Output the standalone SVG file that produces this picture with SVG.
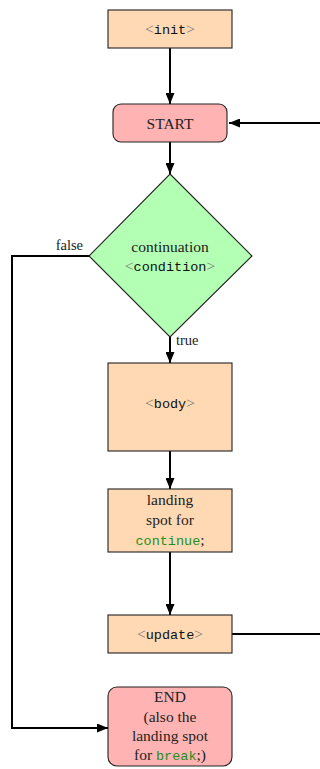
<svg xmlns="http://www.w3.org/2000/svg" width="320" height="769" viewBox="0 0 320 769">
  <style>
    .box { fill: #ffd9b3; stroke: #222; stroke-width: 1.1; }
    .term { fill: #ffb3b3; stroke: #222; stroke-width: 1.1; }
    .dec { fill: #b3ffb3; stroke: #222; stroke-width: 1.1; }
    .edge { fill: none; stroke: #000; stroke-width: 2; }
    .rm { font-family: "Liberation Serif", "DejaVu Serif", serif; font-size: 15.5px; fill: #222; text-anchor: middle; }
    .lbl { font-family: "Liberation Serif", "DejaVu Serif", serif; font-size: 14.5px; fill: #222; }
    .tt { font-family: "Liberation Mono", "DejaVu Sans Mono", monospace; font-size: 13.5px; fill: #111; text-anchor: middle; }
    .ang { font-family: "Liberation Serif", "DejaVu Serif", serif; font-size: 15.5px; fill: #777; }
    .kw { font-family: "Liberation Mono", "DejaVu Sans Mono", monospace; font-size: 13.5px; fill: #1f8f1f; }
  </style>
  <defs>
    <marker id="arrow" viewBox="0 0 11 9" refX="11" refY="4.5" markerWidth="11" markerHeight="9" markerUnits="userSpaceOnUse" orient="auto">
      <path d="M0,0 L11,4.5 L0,9 Z" fill="#000"/>
    </marker>
  </defs>

  <!-- connectors -->
  <g id="connectors">
    <path class="edge" d="M170,48 V104" marker-end="url(#arrow)"/>
    <path class="edge" d="M320,123 H229" marker-end="url(#arrow)"/>
    <path class="edge" d="M170,142 V174" marker-end="url(#arrow)"/>
    <path class="edge" d="M89,256 H12 V728 H108" marker-end="url(#arrow)"/>
    <path class="edge" d="M170,337 V363" marker-end="url(#arrow)"/>
    <path class="edge" d="M170,451 V489" marker-end="url(#arrow)"/>
    <path class="edge" d="M170,552 V615" marker-end="url(#arrow)"/>
    <path class="edge" d="M232,634 H320"/>
    <text class="lbl" x="83" y="250" text-anchor="end">false</text>
    <text class="lbl" x="176" y="345">true</text>
  </g>

  <g id="init">
    <rect class="box" x="108" y="10" width="124" height="38"/>
    <text class="tt" x="170" y="34"><tspan class="ang">&lt;</tspan>init<tspan class="ang">&gt;</tspan></text>
  </g>

  <g id="start">
    <rect class="term" x="113" y="104" width="114" height="38" rx="8"/>
    <text class="rm" x="170" y="129">START</text>
  </g>

  <g id="condition">
    <polygon class="dec" points="170,174 252,256 170,337 89,256"/>
    <text class="rm" x="170" y="252">continuation</text>
    <text class="tt" x="170" y="271"><tspan class="ang">&lt;</tspan>condition<tspan class="ang">&gt;</tspan></text>
  </g>

  <g id="body">
    <rect class="box" x="108" y="363" width="124" height="88"/>
    <text class="tt" x="170" y="408"><tspan class="ang">&lt;</tspan>body<tspan class="ang">&gt;</tspan></text>
  </g>

  <g id="continue-spot">
    <rect class="box" x="108" y="489" width="124" height="63"/>
    <text class="rm" x="170" y="505">landing</text>
    <text class="rm" x="170" y="525">spot for</text>
    <text class="rm" x="170" y="545"><tspan class="kw">continue</tspan>;</text>
  </g>

  <g id="update">
    <rect class="box" x="108" y="615" width="124" height="38"/>
    <text class="tt" x="170" y="638.5"><tspan class="ang">&lt;</tspan>update<tspan class="ang">&gt;</tspan></text>
  </g>

  <g id="end">
    <rect class="term" x="108" y="687" width="124" height="79" rx="9"/>
    <text class="rm" x="170" y="702">END</text>
    <text class="rm" x="170" y="722">(also the</text>
    <text class="rm" x="170" y="741">landing spot</text>
    <text class="rm" x="170" y="760">for <tspan class="kw">break</tspan>;)</text>
  </g>
</svg>
